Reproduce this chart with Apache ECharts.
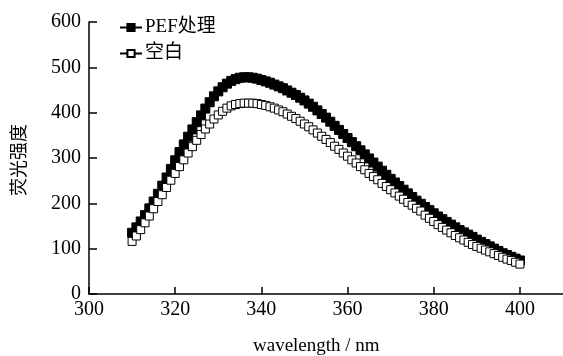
<!DOCTYPE html>
<html><head><meta charset="utf-8">
<script src="https://cdn.jsdelivr.net/npm/echarts@6/dist/echarts.min.js"></script>
<style>html,body{margin:0;padding:0;background:#fff}#c{width:563px;height:356px}</style>
</head><body><div id="c"></div>
<script>
var wavelengths = [310,311,312,313,314,315,316,317,318,319,320,321,322,323,324,325,326,327,328,329,330,331,332,333,334,335,336,337,338,339,340,341,342,343,344,345,346,347,348,349,350,351,352,353,354,355,356,357,358,359,360,361,362,363,364,365,366,367,368,369,370,371,372,373,374,375,376,377,378,379,380,381,382,383,384,385,386,387,388,389,390,391,392,393,394,395,396,397,398,399,400];
var pefValues = [135,147,160,174,189,204,221,239,257,276,295,313,330,347,363,379,394,409,423,436,447,456,464,470,474,477,478,478,477,475,472,469,466,462,458,454,449,444,439,433,427,420,413,405,397,389,380,371,362,353,344,335,326,317,308,299,290,281,272,263,254,246,238,230,222,214,206,199,192,185,178,171,165,159,153,147,141,136,131,126,120,115,110,105,100,95,90,86,82,78,74];
var blankValues = [116,128,142,157,172,188,204,219,235,251,266,281,296,311,325,339,352,364,375,386,395,403,410,415,418,420,421,421,421,420,418,416,413,410,406,402,397,392,387,381,375,369,362,355,348,341,334,326,319,311,304,296,289,281,274,266,259,252,244,237,230,223,216,209,202,196,189,183,174,167,160,153,147,141,135,129,124,119,114,109,105,101,97,93,89,85,81,77,74,70,66];
var xTickValues = [300,320,340,360,380,400];
var xRange = {min:300, max:410};
var yTicks = {min:0, max:600, interval:100};
var seriesNames = ['PEF处理','空白'];

function pairs(vals){ return wavelengths.map(function(w,i){ return [w, vals[i]]; }); }

var serif = '"Liberation Serif","DejaVu Serif",serif';
var chart = echarts.init(document.getElementById('c'));
chart.setOption({
  animation:false,
  backgroundColor:'#fff',
  grid:{left:89, right:0, top:22, bottom:62},
  legend:{
    orient:'vertical', left:114, top:13, itemGap:7, itemWidth:22, itemHeight:9,
    textStyle:{fontFamily:'"Liberation Serif","Noto Sans CJK SC",serif', fontSize:19, color:'#000', padding:[0,0,0,-2]},
    data:seriesNames
  },
  xAxis:{
    type:'value', min:xRange.min, max:xRange.max,
    axisLine:{lineStyle:{color:'#000', width:1.5}},
    axisTick:{inside:true, length:7, customValues:xTickValues, lineStyle:{color:'#000', width:1.5}},
    axisLabel:{color:'#000', fontFamily:serif, fontSize:20, margin:6, customValues:xTickValues},
    splitLine:{show:false}
  },
  yAxis:{
    type:'value', min:yTicks.min, max:yTicks.max, interval:yTicks.interval,
    axisLine:{show:true, lineStyle:{color:'#000', width:1.5}},
    axisTick:{show:true, inside:true, length:8, lineStyle:{color:'#000', width:1.5}},
    axisLabel:{color:'#000', fontFamily:serif, fontSize:20, margin:8},
    splitLine:{show:false}
  },
  graphic:[
    {type:'text', left:253, top:337, style:{text:'wavelength / nm', font:'19px "Liberation Serif", serif', fill:'#000'}},
    {type:'text', x:18, y:160, rotation:Math.PI/2, style:{text:'荧光强度', font:'18px "Noto Sans CJK SC", sans-serif', fill:'#000', align:'center', verticalAlign:'middle'}}
  ],
  series:[
    {name:seriesNames[0], type:'line', data:pairs(pefValues), symbol:'rect', symbolSize:9, showAllSymbol:true,
     lineStyle:{color:'#000', width:1.5}, itemStyle:{color:'#000', borderColor:'#000', borderWidth:1}},
    {name:seriesNames[1], type:'line', data:pairs(blankValues), symbol:'rect', symbolSize:8, showAllSymbol:true,
     lineStyle:{color:'#000', width:1.5}, itemStyle:{color:'#fff', borderColor:'#000', borderWidth:1}}
  ]
});
</script></body></html>
